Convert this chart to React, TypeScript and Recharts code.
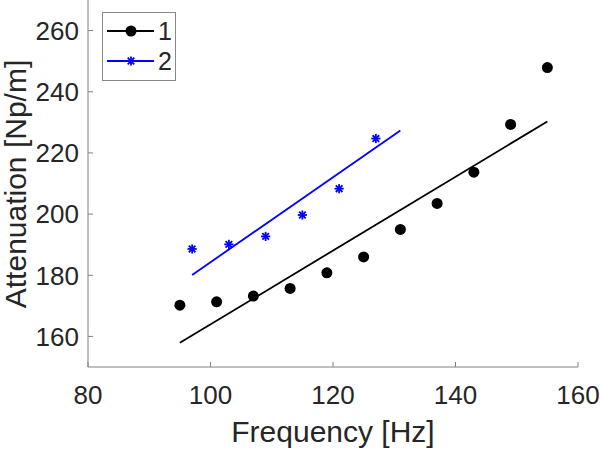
import { ScatterChart, Scatter, XAxis, YAxis, Label } from "recharts";

const freq1 = [95, 101, 107, 113, 119, 125, 131, 137, 143, 149, 155];
const atten1 = [170.2, 171.3, 173.2, 175.7, 180.8, 186.0, 195.0, 203.5, 213.7, 229.3, 247.9];

const freq2 = [97, 103, 109, 115, 121, 127];
const atten2 = [188.6, 190.1, 192.7, 199.7, 208.3, 224.7];

const fit1X = [95, 155];
const fit1Y = [157.9, 230.3];
const fit2X = [97, 131];
const fit2Y = [180.1, 227.3];

const xTicks = [80, 100, 120, 140, 160];
const yTicks = [160, 180, 200, 220, 240, 260];

const seriesNames = ["1", "2"];

const FONT = "'Liberation Sans', Arial, sans-serif";
const TEXT = "#262626";
const AXIS = "#808080";

const toPoints = (xs: number[], ys: number[]) => xs.map((x, i) => ({ x, y: ys[i] }));

const data1 = toPoints(freq1, atten1);
const data2 = toPoints(freq2, atten2);
const fit1 = toPoints(fit1X, fit1Y);
const fit2 = toPoints(fit2X, fit2Y);

function Dot(props: any) {
  return <circle cx={props.cx} cy={props.cy} r={5.5} fill="#000" />;
}

function Star(props: any) {
  const { cx, cy } = props;
  const r = 4.6;
  const d = 3.3;
  return (
    <g stroke="#0000ff" strokeWidth={1.8}>
      <line x1={cx - r} y1={cy} x2={cx + r} y2={cy} />
      <line x1={cx} y1={cy - r} x2={cx} y2={cy + r} />
      <line x1={cx - d} y1={cy - d} x2={cx + d} y2={cy + d} />
      <line x1={cx - d} y1={cy + d} x2={cx + d} y2={cy - d} />
    </g>
  );
}

function XTick(props: any) {
  const { x, y, payload } = props;
  return (
    <g>
      <line x1={x} y1={y} x2={x} y2={y - 5} stroke={AXIS} />
      <text x={x} y={y + 37} textAnchor="middle" fill={TEXT} fontSize={26} fontFamily={FONT}>
        {payload.value}
      </text>
    </g>
  );
}

function YTick(props: any) {
  const { x, y, payload } = props;
  return (
    <g>
      <line x1={x} y1={y} x2={x + 5} y2={y} stroke={AXIS} />
      <text x={x - 9} y={y} dy="0.36em" textAnchor="end" fill={TEXT} fontSize={26} fontFamily={FONT}>
        {payload.value}
      </text>
    </g>
  );
}

function LegendBox() {
  const row = (name: string, color: string, marker: React.ReactNode) => (
    <div style={{ display: "flex", alignItems: "center", height: 30 }}>
      <svg width={52} height={20} style={{ display: "block" }}>
        <line x1={4} y1={10} x2={51} y2={10} stroke={color} strokeWidth={1.8} />
        {marker}
      </svg>
      <span style={{ fontSize: 25, fontFamily: FONT, color: TEXT, lineHeight: "30px", marginLeft: 3 }}>{name}</span>
    </div>
  );
  return (
    <div
      style={{
        position: "absolute",
        left: 102,
        top: 12,
        border: "1px solid #888",
        background: "#fff",
        width: 72,
        height: 64,
        paddingTop: 3,
      }}
    >
      {row(seriesNames[0], "#000", <Dot cx={28} cy={10} />)}
      {row(seriesNames[1], "#0000ff", <Star cx={28} cy={10} />)}
    </div>
  );
}

export default function App() {
  return (
    <div style={{ position: "absolute", left: 0, top: 0, width: 600, height: 449, background: "#fff" }}>
      <ScatterChart width={600} height={449} margin={{ top: 0, right: 22, bottom: 0, left: 0 }}>
        <XAxis
          type="number"
          dataKey="x"
          domain={[80, 160]}
          ticks={xTicks}
          allowDataOverflow
          height={82}
          stroke={AXIS}
          tickLine={false}
          tickSize={0}
          tickMargin={0}
          tick={<XTick />}
        >
          <Label
            content={() => (
              <text x={333} y={442} textAnchor="middle" fill={TEXT} fontSize={30} fontFamily={FONT}>
                Frequency [Hz]
              </text>
            )}
          />
        </XAxis>
        <YAxis
          type="number"
          dataKey="y"
          domain={[150, 270]}
          ticks={yTicks}
          allowDataOverflow
          width={88}
          stroke={AXIS}
          tickLine={false}
          tickSize={0}
          tickMargin={0}
          tick={<YTick />}
        >
          <Label
            content={() => (
              <text
                x={26}
                y={184}
                textAnchor="middle"
                fill={TEXT}
                fontSize={30}
                fontFamily={FONT}
                transform="rotate(-90, 26, 184)"
              >
                Attenuation [Np/m]
              </text>
            )}
          />
        </YAxis>
        <Scatter
          name="fit1"
          data={fit1}
          line={{ stroke: "#000", strokeWidth: 1.8 }}
          shape={() => <g />}
          legendType="none"
          isAnimationActive={false}
        />
        <Scatter
          name="fit2"
          data={fit2}
          line={{ stroke: "#0000ff", strokeWidth: 1.8 }}
          shape={() => <g />}
          legendType="none"
          isAnimationActive={false}
        />
        <Scatter name={seriesNames[0]} data={data1} shape={<Dot />} isAnimationActive={false} />
        <Scatter name={seriesNames[1]} data={data2} shape={<Star />} isAnimationActive={false} />
      </ScatterChart>
      <LegendBox />
    </div>
  );
}
